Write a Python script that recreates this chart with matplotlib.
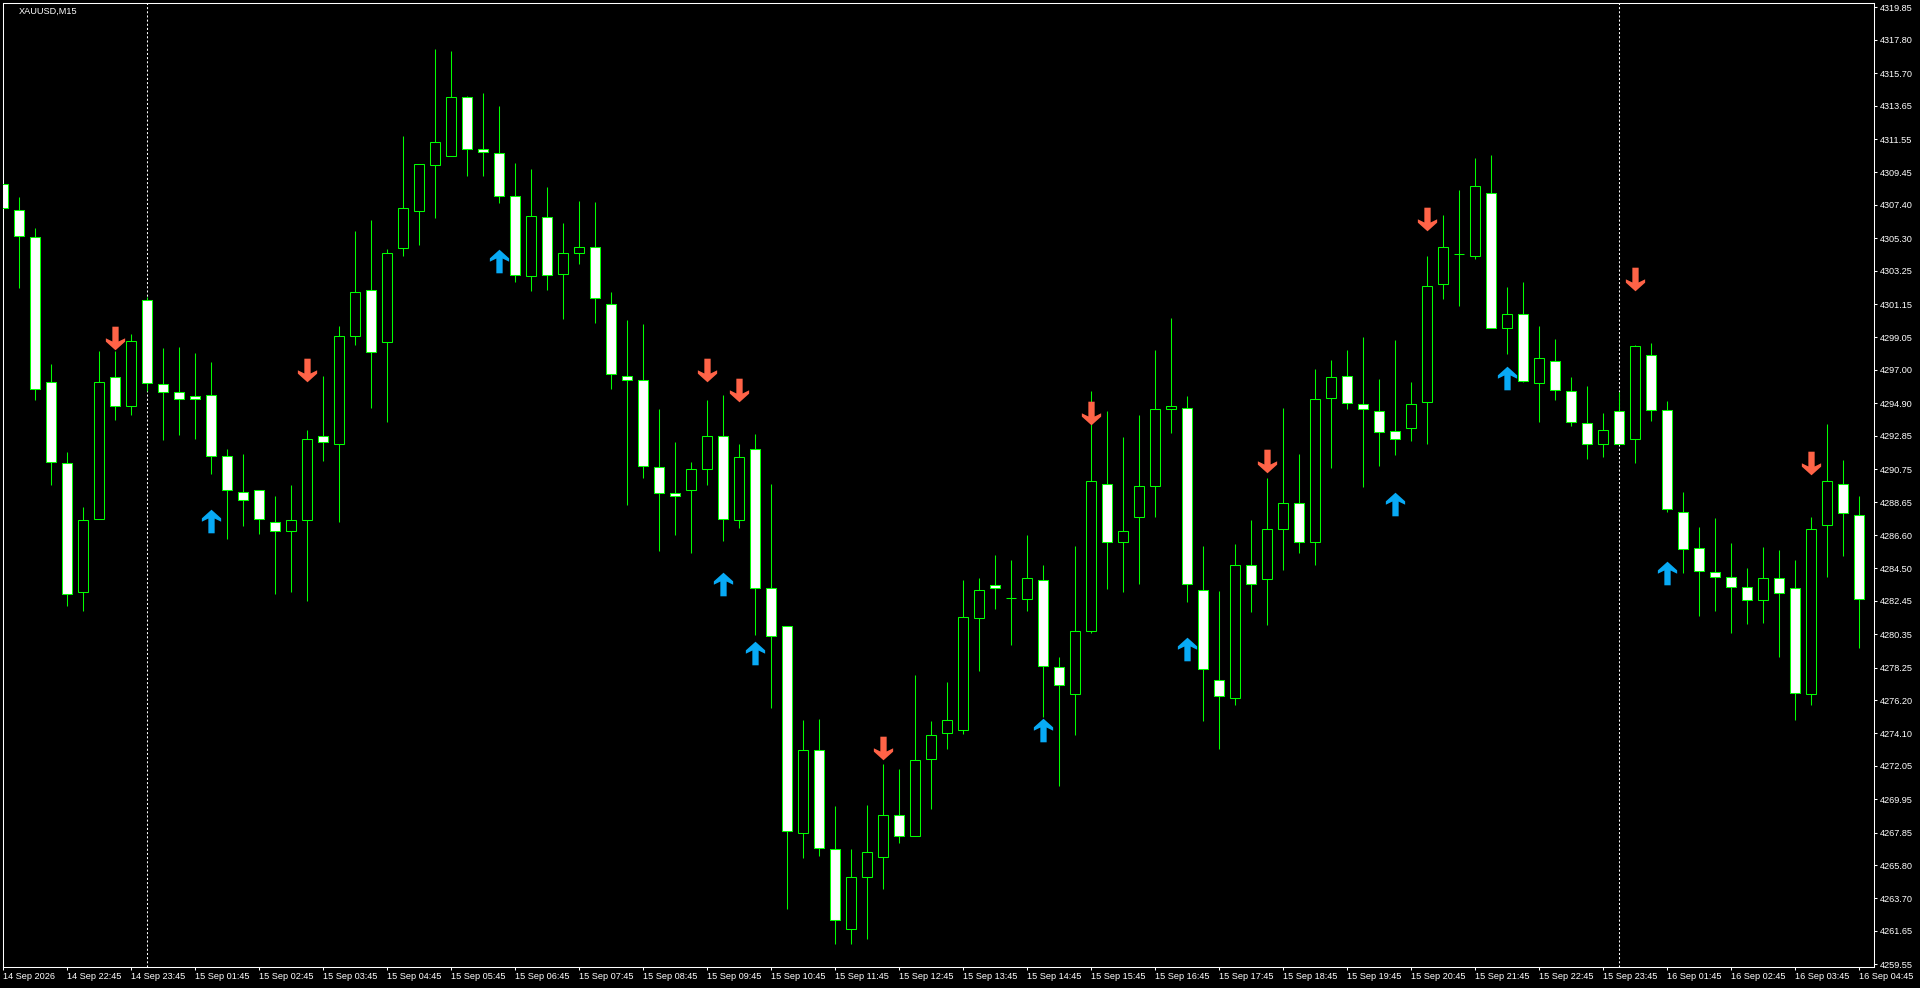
import matplotlib
matplotlib.use("Agg")
import matplotlib.pyplot as plt
from matplotlib.path import Path
import numpy as np

plt.rcParams['font.family'] = ['Liberation Sans', 'DejaVu Sans']

symbol_label = "XAUUSD,M15"

opens = [4308.73, 4307.10, 4305.35, 4296.26, 4291.13, 4283.03, 4287.64, 4296.58, 4294.71, 4301.38,
         4296.14, 4295.58, 4295.38, 4295.42, 4291.57, 4289.31, 4289.43, 4287.44, 4286.88, 4287.52,
         4292.84, 4292.36, 4299.12, 4302.02, 4298.76, 4304.68, 4307.02, 4309.92, 4310.48, 4314.17,
         4310.92, 4310.68, 4307.94, 4302.93, 4306.63, 4303.05, 4304.36, 4304.72, 4301.14, 4296.61,
         4296.34, 4290.90, 4289.23, 4289.43, 4290.74, 4292.84, 4287.52, 4292.05, 4283.23, 4280.88,
         4267.82, 4273.06, 4266.82, 4261.78, 4265.04, 4266.31, 4268.93, 4267.62, 4272.46, 4274.13,
         4274.33, 4281.40, 4283.47, 4282.63, 4282.55, 4283.74, 4278.30, 4276.56, 4280.53, 4289.82,
         4286.17, 4287.72, 4289.66, 4294.51, 4294.63, 4283.11, 4277.47, 4276.36, 4284.74, 4283.82,
         4287.00, 4288.63, 4286.17, 4295.23, 4296.61, 4294.87, 4294.43, 4293.16, 4293.32, 4294.99,
         4302.42, 4304.28, 4304.16, 4308.14, 4299.63, 4300.55, 4296.18, 4297.57, 4295.66, 4293.68,
         4292.36, 4294.43, 4292.64, 4297.97, 4294.47, 4288.07, 4285.81, 4284.30, 4283.98, 4283.35,
         4282.51, 4283.86, 4283.23, 4276.59, 4287.20, 4289.82, 4287.88]
highs = [4309.80, 4307.90, 4305.95, 4297.37, 4291.85, 4288.35, 4298.20, 4298.20, 4299.28, 4301.58,
         4298.40, 4298.44, 4298.09, 4297.49, 4292.01, 4291.73, 4289.43, 4289.07, 4289.74, 4293.20,
         4296.65, 4299.79, 4305.75, 4306.47, 4304.64, 4311.71, 4309.96, 4317.23, 4317.11, 4314.25,
         4314.45, 4313.66, 4310.04, 4309.68, 4308.53, 4306.23, 4307.66, 4307.58, 4301.94, 4300.15,
         4299.91, 4294.55, 4292.48, 4291.21, 4295.11, 4295.42, 4292.33, 4292.96, 4289.82, 4280.88,
         4274.93, 4275.01, 4269.52, 4266.82, 4269.56, 4272.15, 4271.87, 4277.79, 4274.85, 4277.35,
         4283.78, 4283.90, 4285.37, 4285.02, 4286.57, 4284.70, 4278.90, 4285.89, 4295.70, 4294.43,
         4292.76, 4294.15, 4298.28, 4300.27, 4295.38, 4285.89, 4283.07, 4286.05, 4287.56, 4290.18,
         4294.63, 4291.69, 4297.09, 4297.65, 4298.28, 4299.08, 4296.46, 4298.88, 4296.26, 4304.20,
         4306.78, 4308.37, 4310.36, 4310.56, 4302.22, 4302.53, 4299.79, 4298.96, 4296.58, 4295.98,
         4294.31, 4295.58, 4298.56, 4298.72, 4295.07, 4289.31, 4287.12, 4287.68, 4286.09, 4284.50,
         4285.85, 4285.65, 4285.02, 4287.76, 4293.60, 4291.33, 4289.07]
lows = [4304.24, 4302.18, 4295.11, 4289.74, 4282.12, 4281.80, 4287.64, 4293.87, 4294.19, 4295.70,
        4292.56, 4292.92, 4292.68, 4290.42, 4286.37, 4287.16, 4286.64, 4282.91, 4282.99, 4282.47,
        4291.29, 4287.40, 4298.56, 4294.59, 4293.72, 4304.16, 4304.88, 4306.55, 4310.48, 4309.25,
        4309.25, 4307.50, 4302.53, 4301.98, 4302.02, 4300.19, 4303.65, 4299.95, 4295.78, 4288.47,
        4290.22, 4285.57, 4286.57, 4285.49, 4289.74, 4286.25, 4287.04, 4280.33, 4275.68, 4263.01,
        4266.23, 4266.39, 4260.86, 4260.86, 4261.14, 4264.28, 4267.18, 4267.62, 4269.36, 4273.10,
        4274.05, 4278.03, 4281.92, 4279.69, 4281.84, 4275.16, 4270.76, 4273.97, 4280.41, 4283.19,
        4283.03, 4283.51, 4287.76, 4293.00, 4282.36, 4274.85, 4273.14, 4275.92, 4281.72, 4280.92,
        4284.38, 4285.49, 4284.74, 4290.82, 4294.51, 4289.62, 4290.93, 4291.61, 4292.52, 4292.33,
        4301.46, 4301.02, 4303.96, 4299.67, 4298.01, 4296.22, 4293.75, 4295.11, 4293.44, 4291.41,
        4291.49, 4292.33, 4291.13, 4293.80, 4288.07, 4284.18, 4281.48, 4281.84, 4280.45, 4280.97,
        4281.04, 4278.94, 4274.93, 4275.88, 4283.98, 4285.25, 4279.46]
closes = [4307.22, 4305.43, 4295.78, 4291.17, 4282.87, 4287.52, 4296.22, 4294.75, 4298.80, 4296.18,
          4295.62, 4295.15, 4295.15, 4291.57, 4289.43, 4288.79, 4287.60, 4286.88, 4287.52, 4292.68,
          4292.48, 4299.16, 4301.94, 4298.16, 4304.40, 4307.18, 4309.96, 4311.35, 4314.17, 4310.92,
          4310.72, 4307.94, 4302.97, 4306.71, 4302.97, 4304.40, 4304.72, 4301.54, 4296.73, 4296.34,
          4290.97, 4289.27, 4289.07, 4290.74, 4292.84, 4287.60, 4291.49, 4283.23, 4280.21, 4267.98,
          4273.06, 4266.86, 4262.33, 4265.08, 4266.62, 4268.93, 4267.62, 4272.42, 4274.01, 4274.97,
          4281.44, 4283.11, 4283.23, 4282.63, 4283.90, 4278.34, 4277.15, 4280.57, 4289.98, 4286.17,
          4286.88, 4289.66, 4294.51, 4294.71, 4283.51, 4278.14, 4276.48, 4284.74, 4283.51, 4287.00,
          4288.63, 4286.17, 4295.19, 4296.58, 4294.91, 4294.51, 4293.12, 4292.64, 4294.83, 4302.26,
          4304.72, 4304.28, 4308.61, 4299.67, 4300.55, 4296.30, 4297.77, 4295.74, 4293.72, 4292.36,
          4293.20, 4292.33, 4298.48, 4294.47, 4288.23, 4285.73, 4284.34, 4283.94, 4283.31, 4282.51,
          4283.86, 4282.95, 4276.63, 4286.96, 4289.98, 4287.96, 4282.55]

x_tick_labels = ["14 Sep 2026", "14 Sep 22:45", "14 Sep 23:45",
                 "15 Sep 01:45", "15 Sep 02:45", "15 Sep 03:45", "15 Sep 04:45", "15 Sep 05:45",
                 "15 Sep 06:45", "15 Sep 07:45", "15 Sep 08:45", "15 Sep 09:45", "15 Sep 10:45",
                 "15 Sep 11:45", "15 Sep 12:45", "15 Sep 13:45", "15 Sep 14:45", "15 Sep 15:45",
                 "15 Sep 16:45", "15 Sep 17:45", "15 Sep 18:45", "15 Sep 19:45", "15 Sep 20:45",
                 "15 Sep 21:45", "15 Sep 22:45", "15 Sep 23:45",
                 "16 Sep 01:45", "16 Sep 02:45", "16 Sep 03:45", "16 Sep 04:45"]
y_tick_values = [4319.85, 4317.80, 4315.70, 4313.65, 4311.55, 4309.45, 4307.40, 4305.30, 4303.25,
                 4301.15, 4299.05, 4297.00, 4294.90, 4292.85, 4290.75, 4288.65, 4286.60, 4284.50,
                 4282.45, 4280.35, 4278.25, 4276.20, 4274.10, 4272.05, 4269.95, 4267.85, 4265.80,
                 4263.70, 4261.65, 4259.55]

sell_idx = [7, 19, 44, 46, 55, 68, 79, 89, 102, 113]
sell_price = [4299.00, 4296.97, 4297.01, 4295.74, 4273.18, 4294.27, 4291.25, 4306.51, 4302.73, 4291.13]
buy_idx = [13, 31, 45, 47, 65, 74, 87, 94, 104]
buy_price = [4287.48, 4303.88, 4283.51, 4279.18, 4274.29, 4279.42, 4288.55, 4296.49, 4284.18]
day_separators = [9, 101]

W, H = 1920, 988
fig = plt.figure(figsize=(W / 100, H / 100), dpi=100, facecolor='black')
ax = fig.add_axes([2.7 / W, (H - 966.7) / H, (1874.3 - 2.7) / W, (966.7 - 2.7) / H])
ax.set_facecolor('black')

LIME = '#00ff00'
n = len(opens)
xs = np.arange(n)
o = np.array(opens)
c = np.array(closes)
ax.vlines(xs, lows, highs, color=LIME, lw=0.75, zorder=2)
bottom = np.minimum(o, c)
height = np.abs(c - o)
face = ['black' if cc > oo else 'white' for oo, cc in zip(o, c)]
ax.bar(xs, height, bottom=bottom, width=0.64, color=face, edgecolor=LIME,
       linewidth=0.75, zorder=3)

for d in day_separators:
    ax.axvline(d, color='white', lw=0.75, linestyle=(0, (2, 2)), zorder=1)

# arrow markers (thick arrow with swept-back head)
up_verts = [(0, 12), (9.8, 3.2), (9.8, -0.2), (3.2, 3.0), (3.2, -12), (-3.2, -12),
            (-3.2, 3.0), (-9.8, -0.2), (-9.8, 3.2), (0, 12)]
down_verts = [(vx, -vy) for vx, vy in up_verts]
up_path = Path(up_verts, closed=True)
down_path = Path(down_verts, closed=True)
ax.plot(sell_idx, sell_price, linestyle='none', marker=down_path, markersize=17.0,
        color='#ff6347', markeredgewidth=0, zorder=5)
ax.plot(buy_idx, buy_price, linestyle='none', marker=up_path, markersize=17.0,
        color='#08aaf5', markeredgewidth=0, zorder=5)

ax.set_xlim(-0.0375, 116.94)
ax.set_ylim(4259.40, 4320.14)

for sp in ax.spines.values():
    sp.set_color('white')
    sp.set_linewidth(0.75)

ax.set_xticks(list(range(0, n, 4)))
ax.set_xticklabels(x_tick_labels)
for lbl in ax.get_xticklabels():
    lbl.set_horizontalalignment('left')
ax.tick_params(axis='x', colors='white', length=2.4, width=0.75, pad=1.5, labelsize=6.6)

ax.yaxis.tick_right()
ax.set_yticks(y_tick_values)
ax.set_yticklabels(["%.2f" % v for v in y_tick_values])
ax.tick_params(axis='y', colors='white', length=2.2, width=0.75, pad=2, labelsize=6.6)

fig.text(18.3 / W, 1 - 11.7 / H, symbol_label, color='white', fontsize=6.6,
         va='center', ha='left')

fig.savefig('out.png', dpi=100, facecolor='black')
